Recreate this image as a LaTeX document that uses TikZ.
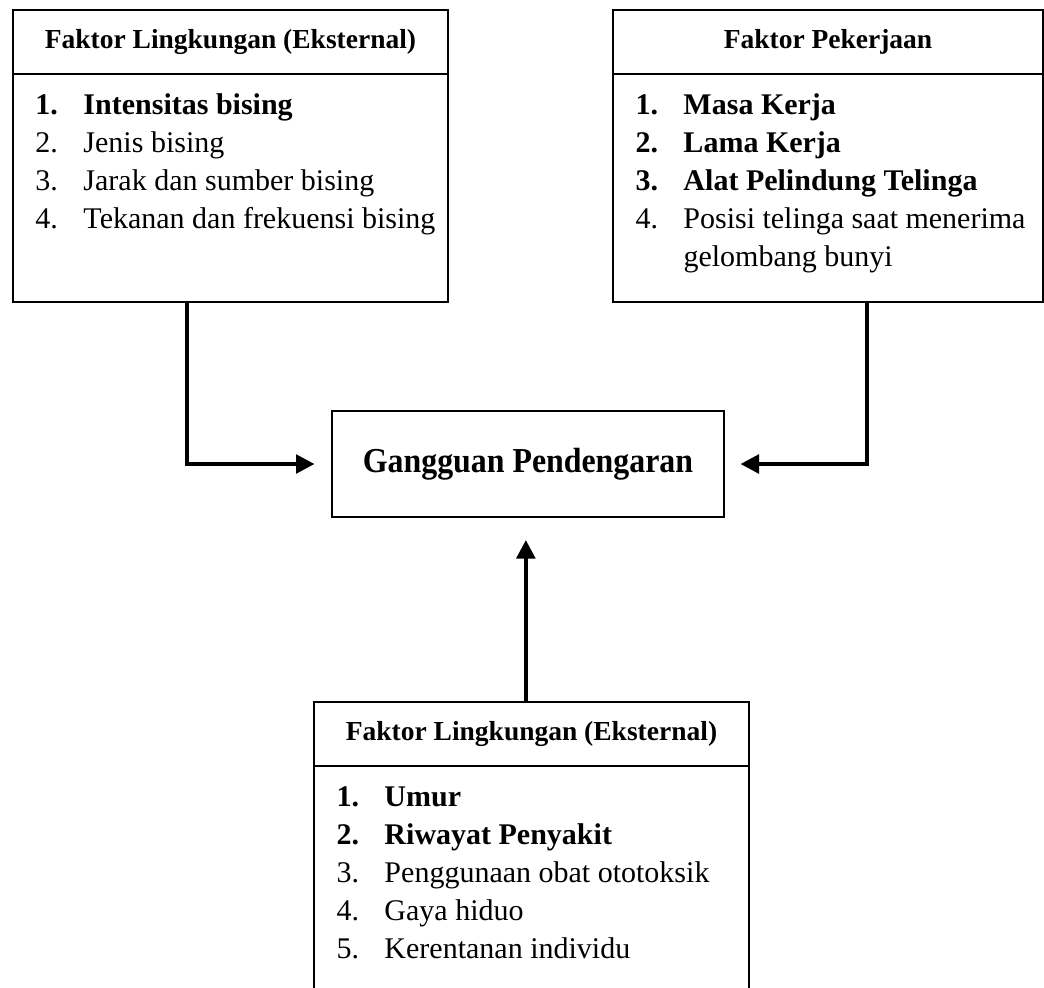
\documentclass[tikz,border=0pt]{standalone}
\usepackage{fontspec}
\setmainfont{Liberation Serif}
\usepackage{graphicx}
\usetikzlibrary{positioning,arrows.meta,calc}
\newcommand{\itm}[2]{\makebox[19.2pt][l]{#1}#2}

\begin{document}
\begin{tikzpicture}[x=0.4pt,y=-0.4pt,
  hd/.style={draw,line width=1.1pt,outer sep=0pt,inner sep=0pt,minimum width=174pt,minimum height=25.6pt,font=\bfseries\fontsize{11}{13}\selectfont},
  bd/.style={draw,line width=1.1pt,outer sep=0pt,inner sep=0pt,minimum width=174pt,minimum height=91.2pt},
  lst/.style={align=left,inner sep=0pt,font=\fontsize{12}{15.2}\selectfont},
  a/.style={-{Triangle[length=7.4pt,width=7.4pt]},line width=1.6pt}
]
\clip (0,0) rectangle (1044,987);
% faktor lingkungan (kiri atas)
\node[hd] (lkhead) at (230.5,42) {Faktor Lingkungan (Eksternal)};
\node[bd,below=0pt of lkhead] (lkbody) {};
\node[lst,below right=5.36pt and 8.8pt of lkbody.north west] (lklist) {%
  \strut\itm{\textbf{1.}}{\textbf{Intensitas bising}}\\
  \itm{2.}{Jenis bising}\\
  \itm{3.}{Jarak dan sumber bising}\\
  \itm{4.}{Tekanan dan frekuensi bising}};
% faktor pekerjaan (kanan atas)
\node[hd,minimum width=172pt] (pkhead) at (828,42) {Faktor Pekerjaan};
\node[bd,minimum width=172pt,below=0pt of pkhead] (pkbody) {};
\node[lst,below right=5.36pt and 8.8pt of pkbody.north west] (pklist) {%
  \strut\itm{\textbf{1.}}{\textbf{Masa Kerja}}\\
  \itm{\textbf{2.}}{\textbf{Lama Kerja}}\\
  \itm{\textbf{3.}}{\textbf{Alat Pelindung Telinga}}\\
  \itm{4.}{\makebox[136.8pt][s]{Posisi telinga saat menerima}}\\
  \itm{}{gelombang bunyi}};
% gangguan pendengaran
\node[draw,line width=1.1pt,outer sep=0pt,minimum width=156.8pt,minimum height=42.4pt,
  font=\bfseries\fontsize{14}{16}\selectfont] (gp) at (528,464) {\scalebox{0.91}[1]{Gangguan Pendengaran}};
% faktor lingkungan (bawah)
\node[hd] (bhead) at (531.5,734) {Faktor Lingkungan (Eksternal)};
\node[bd,minimum height=100pt,below=0pt of bhead] (bbody) {};
\node[lst,below right=5.36pt and 8.8pt of bbody.north west] (blist) {%
  \strut\itm{\textbf{1.}}{\textbf{Umur}}\\
  \itm{\textbf{2.}}{\textbf{Riwayat Penyakit}}\\
  \itm{3.}{Penggunaan obat ototoksik}\\
  \itm{4.}{Gaya hiduo}\\
  \itm{5.}{Kerentanan individu}};
% panah
\coordinate (bout) at ($(bhead.north west)!0.487!(bhead.north east)$);
\coordinate (bin) at (bout |- gp.south);
\draw[a] ($(lkbody.south west)!0.4!(lkbody.south east)$) |- ([xshift=-7pt]gp.west);
\draw[a] ($(pkbody.south west)!0.59!(pkbody.south east)$) |- ([xshift=6.6pt]gp.east);
\draw[a] (bout) -- ([yshift=-9.2pt]bin);
\end{tikzpicture}
\end{document}
